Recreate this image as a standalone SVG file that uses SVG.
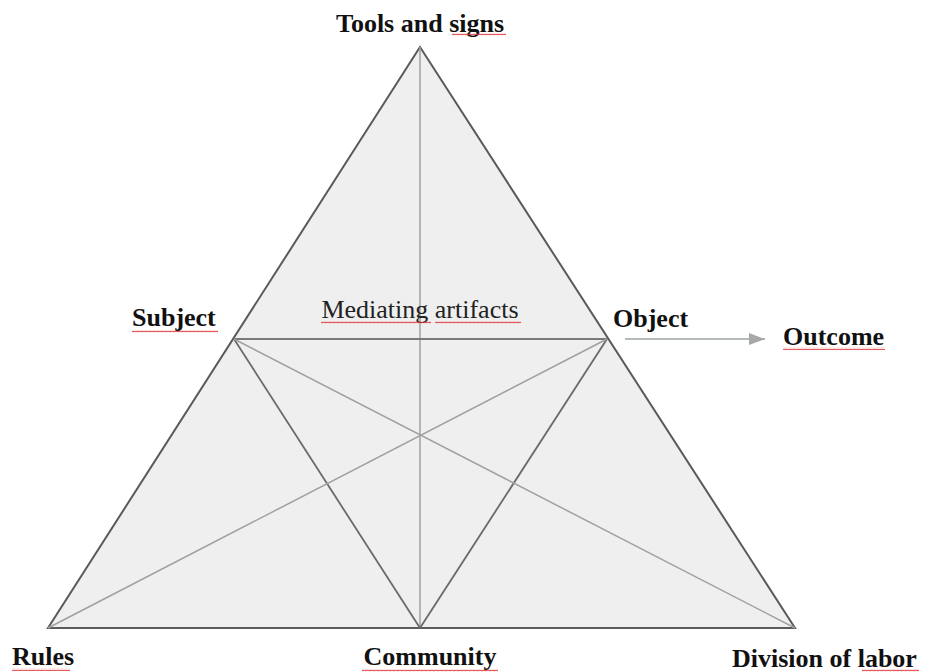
<svg xmlns="http://www.w3.org/2000/svg" width="925" height="672" viewBox="0 0 925 672">
<style>
.lbl{font-family:"Liberation Serif","Times New Roman",serif;font-size:26px;font-weight:bold;fill:#111}
.reg{font-family:"Liberation Serif","Times New Roman",serif;font-size:26px;fill:#222}
.inner{stroke:#a0a0a0;stroke-width:1.5;fill:none}
.sq{fill:url(#wave)}
</style>
<defs>
<pattern id="wave" width="4" height="3" patternUnits="userSpaceOnUse">
<path d="M0 2.2 L1 0.8 L2 2.2 L3 0.8 L4 2.2" stroke="#e03030" stroke-width="0.8" fill="none"/>
</pattern>
<marker id="arr" viewBox="0 0 16 12" refX="16" refY="6" markerWidth="16" markerHeight="12" markerUnits="userSpaceOnUse" orient="auto">
<path d="M0 0 L16 6 L0 12 z" fill="#a8a8a8"/>
</marker>
</defs>
<rect width="925" height="672" fill="#fff"/>
<g id="triangle">
<polygon points="420,47 48,628 795,628" fill="#efefef" stroke="#5a5a5a" stroke-width="2" stroke-linejoin="miter"/>
</g>
<g id="connectors">
<line class="inner" x1="420" y1="47" x2="420" y2="628"/>
<line x1="234" y1="339" x2="607" y2="339" stroke="#7a7a7a" stroke-width="1.8"/>
<line x1="234" y1="339" x2="420" y2="628" stroke="#6a6a6a" stroke-width="1.8"/>
<line x1="607" y1="339" x2="420" y2="628" stroke="#6a6a6a" stroke-width="1.8"/>
<line class="inner" x1="234" y1="339" x2="795" y2="628"/>
<line class="inner" x1="607" y1="339" x2="48" y2="628"/>
<line x1="625" y1="339" x2="765" y2="339" stroke="#b4bab4" stroke-width="2" marker-end="url(#arr)"/>
</g>
<g id="tools"><text class="lbl" x="420" y="32" text-anchor="middle">Tools and signs</text><rect class="sq" x="452" y="33" width="54" height="3"/></g>
<g id="subject"><text class="lbl" x="132" y="326">Subject</text><rect class="sq" x="132" y="330" width="86" height="3"/></g>
<g id="mediating"><text class="reg" x="420" y="318" text-anchor="middle">Mediating artifacts</text><rect class="sq" x="321" y="321" width="110" height="3"/><rect class="sq" x="435" y="321" width="86" height="3"/></g>
<g id="object"><text class="lbl" x="613" y="327">Object</text></g>
<g id="outcome"><text class="lbl" x="783" y="345">Outcome</text><rect class="sq" x="783" y="347" width="102" height="3"/></g>
<g id="rules"><text class="lbl" x="12" y="665">Rules</text><rect class="sq" x="12" y="668" width="58" height="3"/></g>
<g id="community"><text class="lbl" x="430" y="665" text-anchor="middle">Community</text><rect class="sq" x="362" y="669" width="136" height="3"/></g>
<g id="division"><text class="lbl" x="732" y="667">Division of labor</text><rect class="sq" x="862" y="669" width="57" height="3"/></g>
</svg>
